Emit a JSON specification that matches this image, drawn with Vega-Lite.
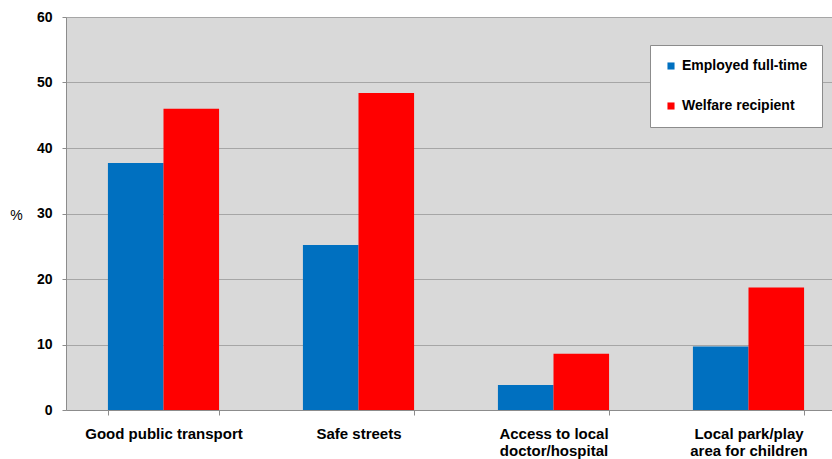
{
  "$schema": "https://vega.github.io/schema/vega-lite/v6.json",
  "autosize": "none",
  "width": 780,
  "height": 393,
  "padding": {"left": 66, "top": 17, "right": 0, "bottom": 49},
  "background": "white",
  "config": {
    "view": {"fill": "#d9d9d9", "stroke": null},
    "font": "Liberation Sans"
  },
  "data": {
    "values": [
      {"category": "Good public transport", "group": "Employed full-time", "value": 37.7},
      {"category": "Good public transport", "group": "Welfare recipient", "value": 46.0},
      {"category": "Safe streets", "group": "Employed full-time", "value": 25.2},
      {"category": "Safe streets", "group": "Welfare recipient", "value": 48.4},
      {"category": "Access to local doctor/hospital", "group": "Employed full-time", "value": 3.8},
      {"category": "Access to local doctor/hospital", "group": "Welfare recipient", "value": 8.6},
      {"category": "Local park/play area for children", "group": "Employed full-time", "value": 9.7},
      {"category": "Local park/play area for children", "group": "Welfare recipient", "value": 18.7}
    ]
  },
  "mark": {"type": "bar"},
  "encoding": {
    "x": {
      "field": "category",
      "type": "nominal",
      "sort": null,
      "scale": {"paddingInner": 0.43, "paddingOuter": 0.215},
      "axis": {
        "title": null,
        "labelAngle": 0,
        "labelFont": "Liberation Sans",
        "labelFontSize": 15,
        "labelFontWeight": "bold",
        "labelColor": "black",
        "labelPadding": 23,
        "labelLineHeight": 17,
        "labelBaseline": "alphabetic",
        "tickBand": "extent",
        "tickColor": "#8c8c8c",
        "tickSize": 5,
        "domainColor": "#8c8c8c",
        "labelExpr": "datum.label == 'Access to local doctor/hospital' ? ['Access to local', 'doctor/hospital'] : datum.label == 'Local park/play area for children' ? ['Local park/play', 'area for children'] : datum.label"
      }
    },
    "xOffset": {"field": "group", "type": "nominal", "scale": {"paddingInner": 0, "paddingOuter": 0}},
    "y": {
      "field": "value",
      "type": "quantitative",
      "scale": {"domain": [0, 60], "nice": false},
      "axis": {
        "title": "%",
        "titleAngle": 0,
        "titleX": -50,
        "titleY": 198,
        "titleAlign": "center",
        "titleBaseline": "middle",
        "titleFont": "Liberation Sans",
        "titleFontSize": 14,
        "titleFontWeight": "normal",
        "titleColor": "black",
        "values": [0, 10, 20, 30, 40, 50, 60],
        "labelFont": "Liberation Sans",
        "labelFontSize": 14,
        "labelFontWeight": "bold",
        "labelColor": "black",
        "labelPadding": 10,
        "tickColor": "#8c8c8c",
        "tickSize": 4,
        "domainColor": "#8c8c8c",
        "gridColor": "#a6a6a6",
        "gridWidth": 1
      }
    },
    "color": {
      "field": "group",
      "type": "nominal",
      "scale": {"domain": ["Employed full-time", "Welfare recipient"], "range": ["#0070c0", "#ff0000"]},
      "legend": {
        "title": null,
        "orient": "none",
        "legendX": 584,
        "legendY": 28,
        "fillColor": "white",
        "strokeColor": "#8c8c8c",
        "padding": 14,
        "symbolType": "square",
        "symbolSize": 50,
        "symbolStrokeWidth": 0,
        "labelFont": "Liberation Sans",
        "labelFontSize": 14,
        "labelFontWeight": "bold",
        "labelColor": "black",
        "labelOffset": 4,
        "rowPadding": 26
      }
    }
  }
}
